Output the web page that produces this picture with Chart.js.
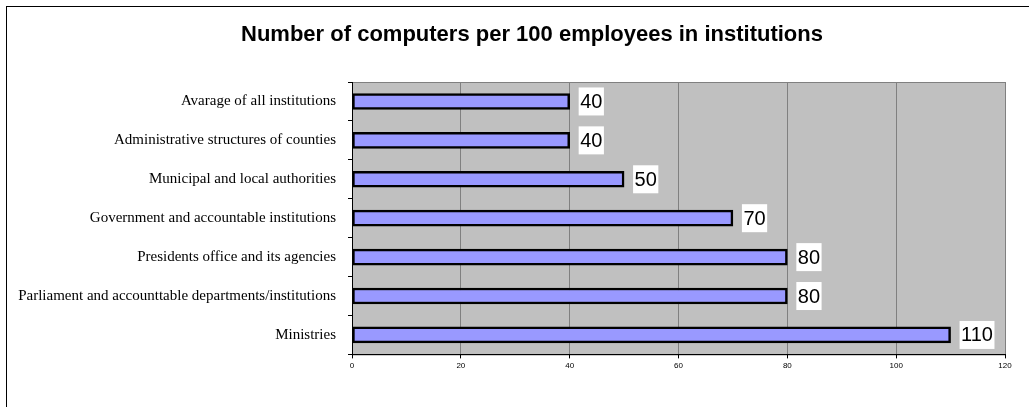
<!DOCTYPE html>
<html>
<head>
<meta charset="utf-8">
<script src="https://cdn.jsdelivr.net/npm/chart.js@4"></script>
<style>
  html, body { margin: 0; padding: 0; background: #fff; }
  #wrap { position: relative; width: 1029px; height: 407px; }
</style>
</head>
<body>
<div id="wrap"><canvas id="chart" width="1029" height="407"></canvas></div>
<script>
const categories = [
  'Avarage of all institutions',
  'Administrative structures of counties',
  'Municipal and local authorities',
  'Government and accountable institutions',
  'Presidents office and its agencies',
  'Parliament and accounttable departments/institutions',
  'Ministries'
];
const values = [40, 40, 50, 70, 80, 80, 110];
const xTicks = [0, 20, 40, 60, 80, 100, 120];
const titleText = 'Number of computers per 100 employees in institutions';

// frame, title + grey plot background
const frame = {
  id: 'frame',
  beforeDraw(chart) {
    const c = chart.ctx, a = chart.chartArea;
    c.save();
    c.fillStyle = '#fff';
    c.fillRect(0, 0, chart.width, chart.height);
    c.strokeStyle = '#000';
    c.lineWidth = 1;
    c.strokeRect(6.5, 6.5, chart.width + 20, chart.height + 20);
    c.fillStyle = '#000';
    c.font = 'bold 22px "Liberation Sans", Arial, sans-serif';
    c.textAlign = 'center';
    c.textBaseline = 'alphabetic';
    c.fillText(titleText, 532, 41);
    c.fillStyle = '#c0c0c0';
    c.fillRect(a.left, a.top, a.right - a.left, a.bottom - a.top);
    c.strokeStyle = '#808080';
    c.strokeRect(a.left + 0.5, a.top + 0.5, a.right - a.left, a.bottom - a.top);
    c.restore();
  }
};

// value labels on white boxes
const valueLabels = {
  id: 'valueLabels',
  afterDatasetsDraw(chart) {
    const c = chart.ctx;
    const meta = chart.getDatasetMeta(0);
    c.save();
    c.font = '20px "Liberation Sans", Arial, sans-serif';
    c.textBaseline = 'middle';
    meta.data.forEach((bar, i) => {
      const txt = String(values[i]);
      const w = c.measureText(txt).width + 3;
      const x = bar.x + 9;
      c.fillStyle = '#fff';
      c.fillRect(x, bar.y - 14, w, 28);
      c.fillStyle = '#000';
      c.fillText(txt, x + 1.5, bar.y + 1);
    });
    c.restore();
  }
};

new Chart(document.getElementById('chart'), {
  type: 'bar',
  data: {
    labels: categories,
    datasets: [{
      data: values,
      backgroundColor: '#9999ff',
      borderColor: '#000',
      borderWidth: 2.5,
      borderSkipped: false,
      barThickness: 16
    }]
  },
  plugins: [frame, valueLabels],
  options: {
    indexAxis: 'y',
    responsive: false,
    animation: false,
    layout: { padding: { left: 0, right: 24, top: 82, bottom: 33 } },
    plugins: {
      legend: { display: false },
      tooltip: { enabled: false },
      title: { display: false }
    },
    scales: {
      x: {
        min: 0,
        max: 120,
        afterBuildTicks(axis) { axis.ticks = xTicks.map(v => ({ value: v })); },
        grid: { color: '#808080', lineWidth: 1, drawTicks: true, tickLength: 4, tickColor: '#000' },
        border: { color: '#000', width: 1 },
        ticks: {
          color: '#000',
          padding: 3,
          font: { family: '"Liberation Sans", Arial, sans-serif', size: 8 }
        }
      },
      y: {
        afterFit(axis) { axis.width = 352; },
        grid: { offset: true, drawOnChartArea: false, tickLength: 4, tickColor: '#000' },
        border: { color: '#000', width: 1 },
        ticks: {
          color: '#000',
          padding: 12,
          font: { family: '"Liberation Serif", "Times New Roman", serif', size: 15 }
        }
      }
    }
  }
});
</script>
</body>
</html>
